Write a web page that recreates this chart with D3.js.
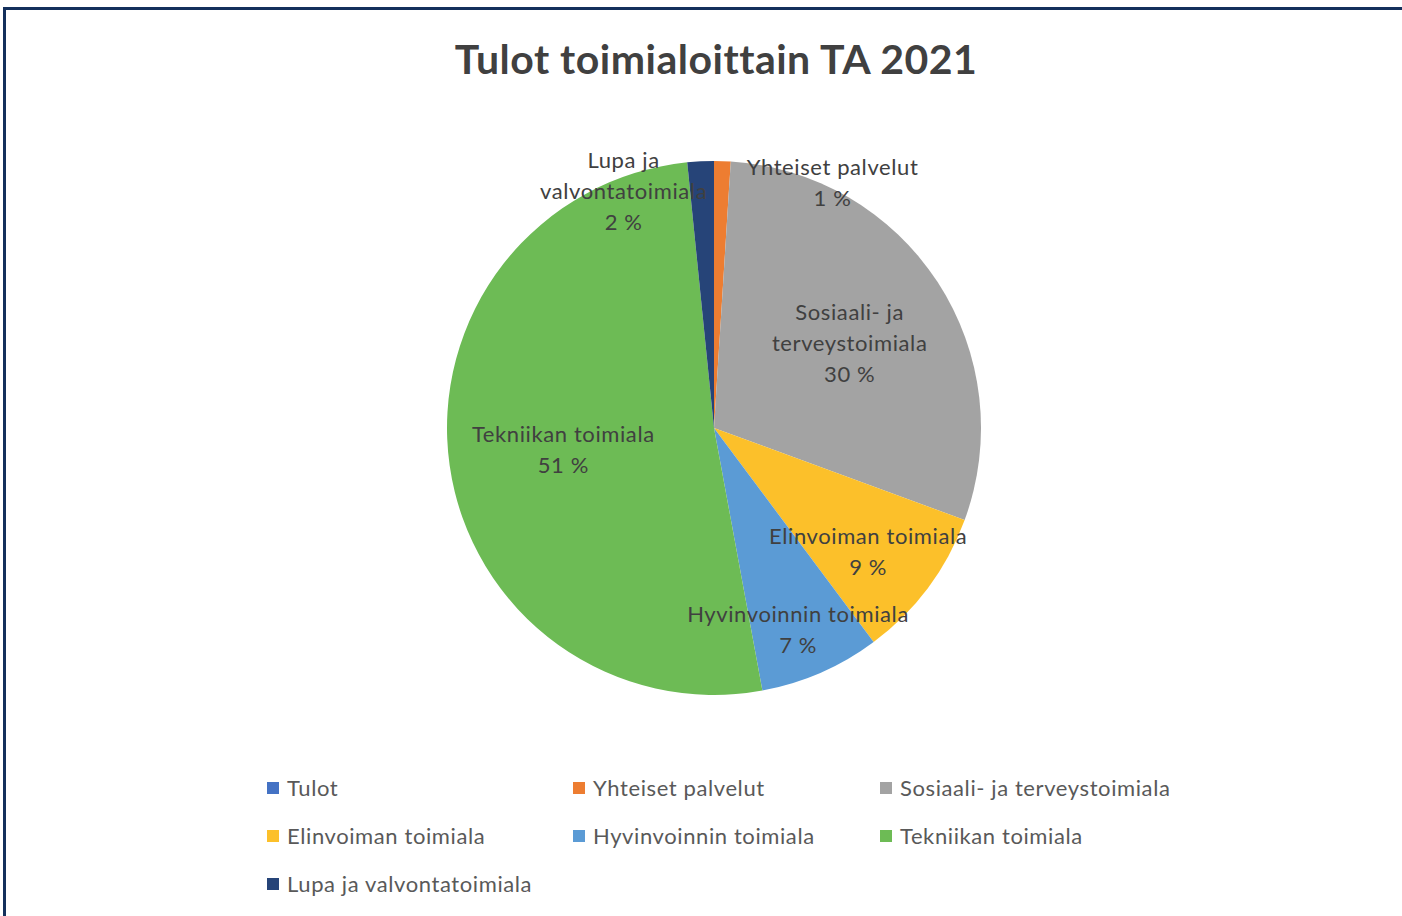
<html>
<head>
<style>
    body { margin: 0; background: #ffffff; }
    svg { display: block; }
</style>
</head>
<body>
<svg id="chart"></svg>
<script src="https://d3js.org/d3.v7.min.js"></script>
<script>
    // data (share of income, %)
    var categories = ["Tulot", "Yhteiset palvelut", "Sosiaali- ja terveystoimiala", "Elinvoiman toimiala",
                      "Hyvinvoinnin toimiala", "Tekniikan toimiala", "Lupa ja valvontatoimiala"];
    var values = [0, 1.0, 29.6, 9.2, 7.3, 51.3, 1.6];
    var colors = ["#4472c4", "#ed7d31", "#a3a3a3", "#fcc02a", "#5b9bd5", "#6dbb55", "#264478"];
    // data label text lines (percent is added below)
    var labelLines = [[], ["Yhteiset palvelut"], ["Sosiaali- ja", "terveystoimiala"], ["Elinvoiman toimiala"],
                      ["Hyvinvoinnin toimiala"], ["Tekniikan toimiala"], ["Lupa ja", "valvontatoimiala"]];

    var width = 1402, height = 916;
    var cx = 714, cy = 428, radius = 267;

    var svg = d3.select("#chart")
        .attr("width", width)
        .attr("height", height)
        .style("font-family", "Lato, 'Open Sans', sans-serif");

    // frame lines (top and left, rest is cropped)
    svg.append("line").attr("x1", 3).attr("x2", width).attr("y1", 8.5).attr("y2", 8.5)
        .attr("stroke", "#14305c").attr("stroke-width", 3);
    svg.append("line").attr("x1", 4.5).attr("x2", 4.5).attr("y1", 7).attr("y2", height)
        .attr("stroke", "#14305c").attr("stroke-width", 3);

    // title
    svg.append("text")
        .attr("x", 716).attr("y", 74)
        .attr("text-anchor", "middle")
        .style("font-size", "41px").style("font-weight", "bold")
        .style("letter-spacing", "0.5px")
        .attr("fill", "#404040")
        .text("Tulot toimialoittain TA 2021");

    var pieData = d3.pie().sort(null).value(d => d.value)(
        categories.map((c, i) => ({name: c, value: values[i], color: colors[i], lines: labelLines[i]})));
    var total = d3.sum(values);

    var arc = d3.arc().innerRadius(0).outerRadius(radius);

    var g = svg.append("g").attr("transform", "translate(" + cx + "," + cy + ")");

    g.selectAll("path")
        .data(pieData)
        .enter()
        .append("path")
        .attr("d", arc)
        .attr("fill", d => d.data.color);

    // best-fit label placement: radius fraction and angle shift (degrees) per slice
    var labelK = [0, 1.02, 0.6, 0.74, 0.82, 0.57, 0.95];
    var labelShift = [0, 24, 1, 2, 1, 0, -18];
    var lineH = 31;

    var labels = g.selectAll("text.lbl")
        .data(pieData.filter(d => d.data.value > 0))
        .enter()
        .append("text")
        .attr("class", "lbl")
        .attr("text-anchor", "middle")
        .style("font-size", "22px")
        .style("letter-spacing", "0.6px")
        .attr("fill", "#404040")
        .attr("transform", function(d) {
            var i = d.index;
            var a = (d.startAngle + d.endAngle) / 2 + labelShift[i] * Math.PI / 180;
            var r = labelK[i] * radius;
            var n = d.data.lines.length + 1;
            var x = r * Math.sin(a), y = -r * Math.cos(a) - (n - 1) * lineH / 2;
            return "translate(" + x + "," + y + ")";
        });

    labels.each(function(d) {
        var t = d3.select(this);
        var lines = d.data.lines.concat([Math.round(d.data.value / total * 100) + " %"]);
        lines.forEach(function(l, j) {
            t.append("tspan").attr("x", 0).attr("y", j * lineH).attr("dy", "0.35em").text(l);
        });
    });

    // legend
    var colX = [267, 573, 880], rowY = [788, 836, 884];
    var legend = svg.append("g").attr("id", "legend");
    var entry = legend.selectAll("g")
        .data(categories)
        .enter()
        .append("g")
        .attr("transform", (d, i) => "translate(" + colX[i % 3] + "," + rowY[Math.floor(i / 3)] + ")");
    entry.append("rect")
        .attr("x", 0).attr("y", -6).attr("width", 12).attr("height", 12)
        .attr("fill", (d, i) => colors[i]);
    entry.append("text")
        .attr("x", 20).attr("y", 0).attr("dy", "0.35em")
        .style("font-size", "22px")
        .style("letter-spacing", "0.6px")
        .attr("fill", "#595959")
        .text(d => d);
</script>
</body>
</html>
